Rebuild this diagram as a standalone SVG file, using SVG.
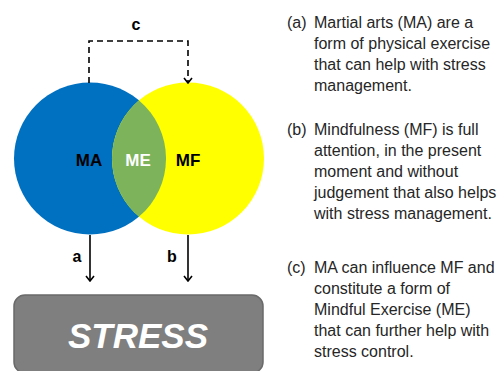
<svg xmlns="http://www.w3.org/2000/svg" width="502" height="371" viewBox="0 0 502 371">
<style>
.lbl{font-family:"Liberation Sans",Arial,sans-serif;font-weight:bold;fill:#000;text-anchor:middle}
.txt{font-family:"Liberation Sans",Arial,sans-serif;font-size:16px;fill:#262626}
.conn{fill:none;stroke:#000;stroke-width:1.6}
</style>
<defs>
<marker id="v" viewBox="0 0 10 10" refX="9" refY="5" markerWidth="10" markerHeight="10" markerUnits="userSpaceOnUse" orient="auto">
<path d="M4,1 L9,5 L4,9" fill="none" stroke="#000" stroke-width="1.6"/>
</marker>
</defs>
<rect width="502" height="371" fill="#fff"/>
<g id="MA">
<circle cx="90" cy="158.5" r="76" fill="#0070C0"/>
<text class="lbl" x="89" y="166" font-size="17">MA</text>
</g>
<g id="MF">
<circle cx="188" cy="158.5" r="76" fill="#FFFF00"/>
<text class="lbl" x="188" y="166" font-size="17">MF</text>
</g>
<g id="ME">
<path d="M139,100.4 A76,76 0 0 1 139,216.6 A76,76 0 0 1 139,100.4 Z" fill="#7CB35B"/>
<text class="lbl" x="138" y="166" font-size="17" style="fill:#fff">ME</text>
</g>
<g id="STRESS">
<rect x="14" y="295" width="249" height="78" rx="11" fill="#7F7F7F" stroke="#6A6A6A" stroke-width="1.5"/>
<text x="138" y="348" font-family="'Liberation Sans',Arial,sans-serif" font-size="35" font-weight="bold" font-style="italic" fill="#fff" text-anchor="middle">STRESS</text>
</g>
<g id="connectors">
<path class="conn" d="M89,83 V41 H188 V83" stroke-dasharray="6,4" marker-end="url(#v)"/>
<text class="lbl" x="136" y="30" font-size="16">c</text>
<path class="conn" d="M90,235 V281" marker-end="url(#v)"/>
<text class="lbl" x="77" y="262" font-size="16">a</text>
<path class="conn" d="M188,235 V281" marker-end="url(#v)"/>
<text class="lbl" x="172" y="262" font-size="16">b</text>
</g>
<g id="notes" class="txt">
<text x="287" y="28">(a)</text>
<text x="314" y="28">Martial arts (MA) are a</text>
<text x="314" y="49">form of physical exercise</text>
<text x="314" y="70">that can help with stress</text>
<text x="314" y="91">management.</text>
<text x="287" y="135">(b)</text>
<text x="314" y="135">Mindfulness (MF) is full</text>
<text x="314" y="156">attention, in the present</text>
<text x="314" y="177">moment and without</text>
<text x="314" y="198">judgement that also helps</text>
<text x="314" y="219">with stress management.</text>
<text x="287" y="273">(c)</text>
<text x="314" y="273">MA can influence MF and</text>
<text x="314" y="294">constitute a form of</text>
<text x="314" y="315">Mindful Exercise (ME)</text>
<text x="314" y="336">that can further help with</text>
<text x="314" y="357">stress control.</text>
</g>
</svg>
